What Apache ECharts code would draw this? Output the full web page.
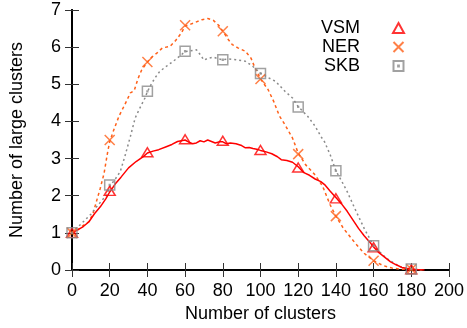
<!DOCTYPE html>
<html><head><meta charset="utf-8">
<script src="https://cdn.jsdelivr.net/npm/echarts@6/dist/echarts.min.js"></script>
<style>html,body{margin:0;padding:0;background:#fff}#c{width:467px;height:328px}</style>
</head><body><div id="c"></div>
<script>
const seriesNames = ['VSM', 'NER', 'SKB'];
const markerX = [0, 20, 40, 60, 80, 100, 120, 140, 160, 180];
const vsmMarks = [1.0, 2.13, 3.17, 3.52, 3.48, 3.23, 2.76, 1.93, 0.61, 0.02];
const nerMarks = [1.0, 3.5, 5.6, 6.59, 6.43, 5.14, 3.12, 1.45, 0.25, 0.02];
const skbMarks = [1.0, 2.29, 4.81, 5.89, 5.66, 5.29, 4.39, 2.67, 0.65, 0.03];

const vsmLine = [[0,1.0],[3,1.08],[6,1.17],[9,1.3],[12,1.52],[15,1.7],[18,1.92],[20,2.1],[23,2.32],[26,2.5],[30,2.75],[34,2.92],[38,3.06],[40,3.15],[43,3.2],[46,3.24],[50,3.32],[53,3.38],[56,3.46],[58,3.48],[60,3.5],[62,3.44],[64,3.4],[66,3.42],[68,3.48],[70,3.45],[72,3.5],[74,3.46],[76,3.42],[78,3.45],[80,3.45],[82,3.4],[84,3.42],[87,3.4],[90,3.35],[92,3.29],[94,3.3],[96,3.27],[98,3.25],[100,3.22],[103,3.18],[106,3.13],[109,3.05],[111,2.97],[114,2.95],[117,2.9],[120,2.78],[123,2.62],[126,2.55],[129,2.45],[132,2.38],[134,2.3],[137,2.12],[140,1.95],[143,1.78],[146,1.58],[149,1.35],[152,1.12],[155,0.92],[158,0.75],[160,0.62],[163,0.46],[166,0.34],[169,0.22],[172,0.14],[175,0.07],[178,0.04],[181,0.02],[184,0.01],[187,0.0]];
const nerLine = [[0,1.0],[3,1.08],[6,1.2],[9,1.3],[11,1.5],[13,1.85],[15,2.2],[17,2.6],[19,3.2],[20,3.45],[22,3.75],[25,4.15],[28,4.45],[31,4.77],[33,4.83],[35,5.15],[37,5.39],[40,5.6],[42,5.72],[45,5.84],[48,5.98],[52,6.02],[55,6.18],[58,6.38],[60,6.57],[63,6.62],[66,6.68],[69,6.74],[72,6.77],[75,6.72],[78,6.58],[80,6.43],[83,6.2],[85,6.07],[88,5.98],[92,5.89],[95,5.7],[97,5.45],[100,5.15],[102,5.0],[104,4.86],[107,4.54],[110,4.15],[113,3.91],[117,3.55],[120,3.15],[124,2.83],[129,2.56],[133,2.25],[135,2.0],[137,1.75],[140,1.45],[144,1.12],[150,0.74],[155,0.45],[160,0.25],[165,0.12],[170,0.05],[175,0.02],[180,0.01],[186,0.0]];
const skbLine = [[0,1.0],[3,1.15],[6,1.3],[10,1.5],[13,1.7],[16,1.88],[18.5,2.02],[20,2.25],[23,2.45],[25.6,2.65],[28,3.05],[31,3.6],[33.5,4.09],[36,4.36],[38.7,4.63],[40,4.8],[42,5.0],[44,5.17],[46.6,5.35],[50,5.48],[53.7,5.62],[57,5.75],[60,5.88],[63,5.9],[66,5.93],[68,5.8],[70,5.65],[72,5.7],[75,5.73],[78,5.68],[80,5.66],[83,5.68],[87,5.66],[92,5.62],[96,5.48],[100,5.3],[104,5.18],[108,5.08],[113,4.81],[117,4.63],[120,4.4],[125,4.14],[129,3.87],[132,3.6],[134,3.45],[137,3.1],[140,2.67],[143,2.4],[146,2.11],[150,1.66],[155,1.12],[160,0.65],[164,0.45],[167,0.31],[171,0.18],[174,0.09],[178,0.03],[182,0.01],[186,0.0]];

const colors = {VSM: '#ff0000', NER: '#ff6019', SKB: '#8a8a8a'};
const FONT = 'Liberation Sans, Arial, Helvetica, sans-serif';

function pairs(xs, ys) { return xs.map((x, i) => [x, ys[i]]); }

const tickStyle = {show: true, inside: true, length: 7, lineStyle: {color: '#333', width: 1}};
const axisLineStyle = {show: true, lineStyle: {color: '#000', width: 2}};

const chart = echarts.init(document.getElementById('c'), null, {renderer: 'canvas'});
chart.setOption({
  animation: false,
  backgroundColor: '#fff',
  textStyle: {fontFamily: FONT},
  grid: {left: 69.5, right: 18, top: 10, bottom: 58},
  legend: {
    orient: 'vertical', right: 62, top: 19, padding: 0, itemGap: 1,
    align: 'right', itemWidth: 11, itemHeight: 10,
    data: seriesNames,
    textStyle: {fontSize: 18, color: '#000', fontFamily: FONT, padding: [0, 28, 0, 0]},
    selectedMode: false
  },
  xAxis: [{
    type: 'value', min: 0, max: 200, interval: 20, position: 'bottom',
    name: 'Number of clusters', nameLocation: 'middle', nameGap: 35,
    nameTextStyle: {fontSize: 18, color: '#000', fontFamily: FONT},
    axisLine: axisLineStyle, axisTick: tickStyle, splitLine: {show: false},
    axisLabel: {fontSize: 18, color: '#000', margin: 12, fontFamily: FONT}
  }, {
    type: 'value', min: 0, max: 200, interval: 20, position: 'top',
    axisLine: axisLineStyle, axisTick: tickStyle, splitLine: {show: false},
    axisLabel: {show: false}
  }],
  yAxis: [{
    type: 'value', min: 0, max: 7, interval: 1, position: 'left',
    name: 'Number of large clusters', nameLocation: 'middle', nameGap: 46,
    nameTextStyle: {fontSize: 18, color: '#000', fontFamily: FONT},
    axisLine: axisLineStyle, axisTick: tickStyle, splitLine: {show: false},
    axisLabel: {fontSize: 18, color: '#000', margin: 11, fontFamily: FONT}
  }, {
    type: 'value', min: 0, max: 7, interval: 1, position: 'right',
    axisLine: axisLineStyle, axisTick: tickStyle, splitLine: {show: false},
    axisLabel: {show: false}
  }],
  series: [
    {name: 'NER line', type: 'line', data: nerLine, showSymbol: false, smooth: false,
      lineStyle: {color: colors.NER, width: 1.5, type: [3, 3]}, z: 2},
    {name: 'SKB line', type: 'line', data: skbLine, showSymbol: false, smooth: false,
      lineStyle: {color: colors.SKB, width: 1.5, type: [2, 3]}, z: 2},
    {name: 'VSM line', type: 'line', data: vsmLine, showSymbol: false, smooth: false,
      lineStyle: {color: colors.VSM, width: 1.5, type: 'solid'}, z: 3},
    {name: 'VSM', type: 'scatter', data: pairs(markerX, vsmMarks), symbol: 'triangle', symbolSize: [11, 9],
      itemStyle: {color: 'rgba(0,0,0,0)', borderColor: colors.VSM, borderWidth: 1.5}, z: 5},
    {name: 'NER', type: 'scatter', data: pairs(markerX, nerMarks), symbol: 'path://M0,0L10,10M10,0L0,10', symbolSize: 10,
      itemStyle: {color: 'rgba(0,0,0,0)', borderColor: colors.NER, borderWidth: 1.5}, z: 5},
    {name: 'SKB', type: 'scatter', data: pairs(markerX, skbMarks), symbol: 'path://M0,0H10V10H0ZM4.6,4.6H5.4V5.4H4.6Z', symbolSize: 10,
      itemStyle: {color: 'rgba(0,0,0,0)', borderColor: colors.SKB, borderWidth: 1.5}, z: 5}
  ]
});
</script></body></html>
